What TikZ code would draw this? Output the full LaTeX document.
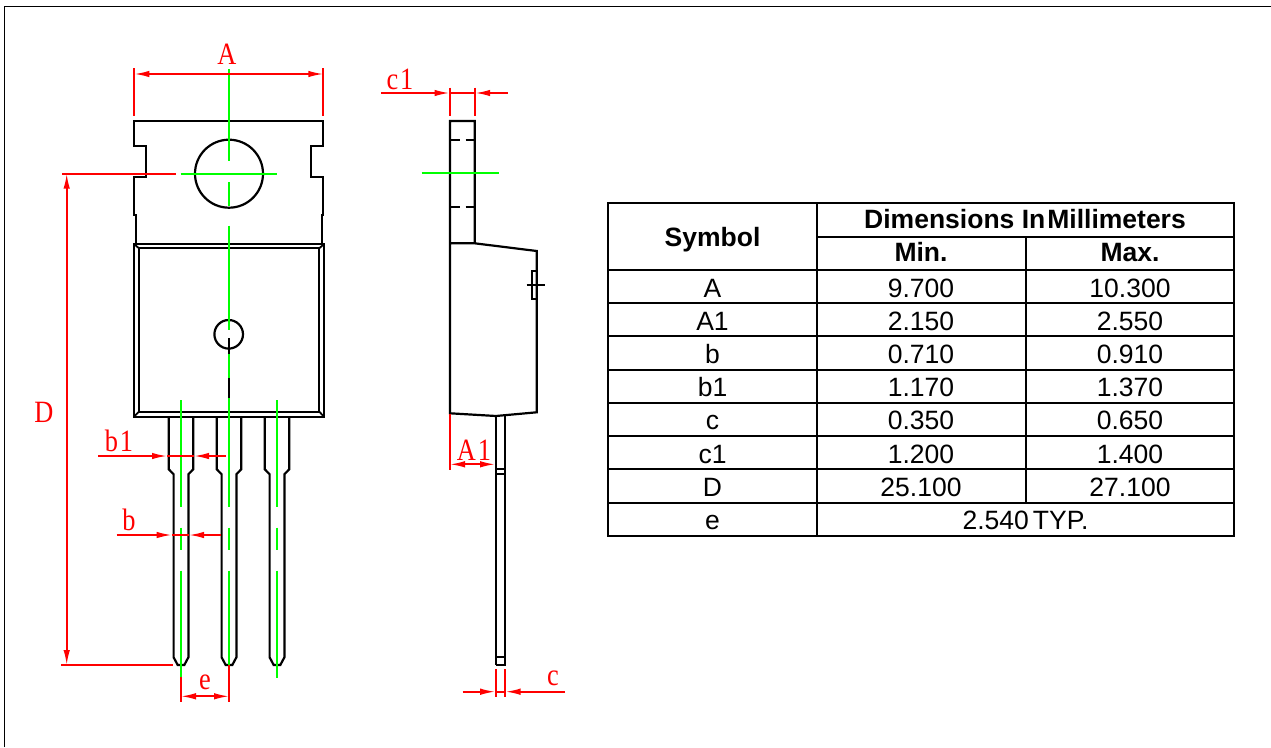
\documentclass[tikz,border=0pt]{standalone}
\usepackage{fontspec}
\setmainfont{Liberation Sans}
\newfontfamily\dimfont[LetterSpace=6,FakeStretch=0.85]{Liberation Serif}
\usetikzlibrary{arrows.meta}

\begin{document}
\begin{tikzpicture}[
    x=1pt, y=-1pt,
    outline/.style={line width=2.2pt, black},
    thinline/.style={line width=1.8pt, black},
    center/.style={line width=2.2pt, green},
    dim/.style={line width=1.7pt, red},
    tip/.style={-{Latex[length=15pt,width=6.5pt]}},
    dimlabel/.style={red, font=\dimfont\fontsize{31}{31}\selectfont, inner sep=0pt},
    cell/.style={anchor=base, inner sep=0pt, font=\fontsize{26.5}{26.5}\selectfont},
    headcell/.style={anchor=base, inner sep=0pt, font=\fontsize{26.5}{26.5}\selectfont\bfseries},
    grid/.style={line width=2pt, black}
]

\useasboundingbox (0,0) rectangle (1271,747);

\draw[line width=1.4pt, black] (4.7,747) -- (4.7,6.5) -- (1271,6.5);

\draw[outline] (135.7,243.5) -- (135.7,215) -- (134.3,215) -- (134.3,177) -- (146.3,177) -- (146.3,145.7)
    -- (134.3,145.7) -- (134.3,120.7) -- (323.3,120.7) -- (323.3,145.7) -- (311,145.7) -- (311,177)
    -- (323.3,177) -- (323.3,215) -- (322,215) -- (322,243.5);
\draw[outline] (229,173.7) circle[radius=34];
\draw[outline] (134,244) rectangle (324,416.7);
\draw[outline] (139,248.3) rectangle (319.3,411.7);
\draw[thinline] (134,244) -- (139,248.3) (324,244) -- (319.3,248.3)
    (134,416.7) -- (139,411.7) (324,416.7) -- (319.3,411.7);
\draw[outline] (228.7,334.3) circle[radius=14.3];

\foreach \px in {181,229,277} {
    \draw[outline] ({\px-12.2},416.7) -- ({\px-12.2},469.3) -- ({\px-7.4},474.3) -- ({\px-7.4},657.3)
        -- ({\px-3.3},665) -- ({\px+3.3},665) -- ({\px+7.4},657.3) -- ({\px+7.4},474.3)
        -- ({\px+12.2},469.3) -- ({\px+12.2},416.7);
    \draw[center] (\px,400) -- (\px,506.7) (\px,527.7) -- (\px,550);
}
\draw[center] (181,570.7) -- (181,677);
\draw[center] (229,570.7) -- (229,665);
\draw[center] (277,570.7) -- (277,677.7);

\draw[center] (229,69) -- (229,161) (229,182) -- (229,206) (229,225.7) -- (229,330);
\draw[center] (180.7,173.7) -- (277,173.7);
\draw[outline] (229,338) -- (229,354) (229,377.7) -- (229,398);
\draw[center] (229,354) -- (229,377.7) (229,398) -- (229,400);

\draw[dim] (134.3,68) -- (134.3,115.7) (323.3,68) -- (323.3,115.7);
\draw[dim, tip] (229,74) -- (134.3,74);
\draw[dim, tip] (229,74) -- (323.3,74);
\node[dimlabel] (lblA) at (227,54) {A};

\draw[dim] (62,173.7) -- (176,173.7) (61,665) -- (172.7,665);
\draw[dim, tip] (66.7,410) -- (66.7,173.7);
\draw[dim, tip] (66.7,410) -- (66.7,665);
\node[dimlabel] (lblD) at (44,412) {D};

\draw[dim, tip] (98.3,456) -- (167,456);
\draw[dim, tip] (225.7,456) -- (194,456);
\draw[dim] (167,456) -- (194,456);
\node[dimlabel] (lblbone) at (119,441) {b1};

\draw[dim, tip] (116.7,535) -- (171.7,535);
\draw[dim, tip] (221,535) -- (189,535);
\draw[dim] (171.7,535) -- (189,535);
\node[dimlabel] (lblb) at (129,520) {b};

\draw[dim] (181,677) -- (181,701.7) (229,665) -- (229,701.7);
\draw[dim, tip] (205,696.3) -- (181,696.3);
\draw[dim, tip] (205,696.3) -- (229,696.3);
\node[dimlabel] (lble) at (205,682) {e};

\draw[outline] (450,243.3) -- (450,121) -- (474.7,121) -- (474.7,243.3) -- (450,243.3) -- (450,413.3)
    -- (496,416) -- (536.7,412.3) -- (536.7,251) -- (474.7,243.3);
\draw[outline] (451,139.7) -- (460,139.7) (465.7,139.7) -- (474.7,139.7)
    (451,206.7) -- (460,206.7) (465.7,206.7) -- (474.7,206.7);
\draw[center] (421.7,173.3) -- (499,173.3);
\draw[thinline] (536.7,270.7) -- (531.7,270.7) -- (531.7,299.3) -- (536.7,299.3);
\draw[thinline] (526.7,285) -- (545,285);

\draw[thinline] (495.7,416) -- (495.7,665);
\draw[outline] (504.7,415.5) -- (504.7,665) -- (495.7,665);
\draw[thinline] (495.7,469.3) -- (504.7,469.3) (495.7,474) -- (504.7,474) (495.7,657.3) -- (504.7,657.3);

\draw[dim] (450,87.7) -- (450,115.7) (474.7,87.7) -- (474.7,115.7);
\draw[dim, tip] (381,93) -- (449.5,93);
\draw[dim, tip] (507.7,93) -- (475.2,93);
\draw[dim] (449.5,93) -- (475.2,93);
\node[dimlabel] (lblcone) at (400,79) {c1};

\draw[dim] (450,414) -- (450,470);
\draw[dim, tip] (472,464.3) -- (450,464.3);
\draw[dim, tip] (472,464.3) -- (495,464.3);
\node[dimlabel] (lblAone) at (474,450) {A1};

\draw[dim] (495.7,669) -- (495.7,697) (505,669) -- (505,697);
\draw[dim, tip] (462.7,691.7) -- (495.2,691.7);
\draw[dim, tip] (565,691.7) -- (505.5,691.7);
\draw[dim] (495.2,691.7) -- (505.5,691.7);
\node[dimlabel] (lblc) at (553,678) {c};

\draw[grid] (607.5,203.3) rectangle (1234,535.7);
\draw[grid] (816.7,236.7) -- (1234,236.7);
\draw[grid] (607.5,270) -- (1234,270);
\foreach \ry in {303.2,336.4,369.6,402.8,436,469.2,502.6} {
    \draw[grid] (607.5,\ry) -- (1234,\ry);
}
\draw[grid] (816.7,203.3) -- (816.7,535.7);
\draw[grid] (1025.5,236.7) -- (1025.5,502.6);

\node[headcell] (symbolhead) at (712.5,246) {Symbol};
\node[headcell] (dimhead) at (1025,228) {Dimensions In\hspace{2pt}Millimeters};
\node[headcell] (minhead) at (921,261) {Min.};
\node[headcell] (maxhead) at (1130,261) {Max.};

\foreach \sym/\lo/\hi [count=\r] in {A/9.700/10.300, A1/2.150/2.550, b/0.710/0.910, b1/1.170/1.370,
    c/0.350/0.650, c1/1.200/1.400, D/25.100/27.100} {
    \node[cell] (sym\r) at (712.5,{297+33.2*(\r-1)}) {\sym};
    \node[cell] (min\r) at (921,{297+33.2*(\r-1)}) {\lo};
    \node[cell] (max\r) at (1130,{297+33.2*(\r-1)}) {\hi};
}
\node[cell] (symlast) at (712.5,529.5) {e};
\node[cell] (typlast) at (1025.5,529.5) {2.540\hspace{4pt}TYP.};

\end{tikzpicture}
\end{document}
